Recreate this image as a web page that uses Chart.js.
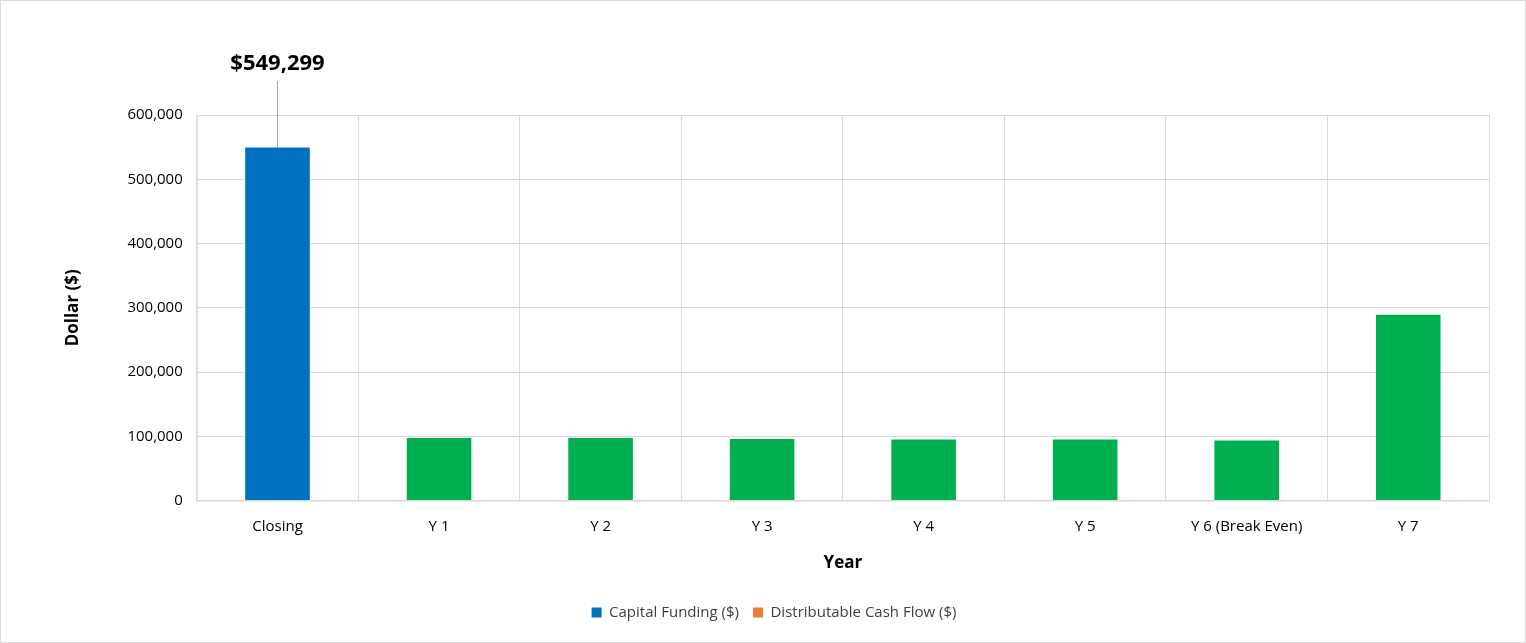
<!DOCTYPE html>
<html>
<head>
<meta charset="utf-8">
<script src="https://cdn.jsdelivr.net/npm/chart.js@4"></script>
<style>
  html, body { margin: 0; padding: 0; background: #fff; }
  #wrap { width: 1524px; height: 641px; border: 1px solid #d9d9d9; }
</style>
</head>
<body>
<div id="wrap"><canvas id="chart" width="1524" height="641"></canvas></div>
<script>
var years = ['Closing', 'Y 1', 'Y 2', 'Y 3', 'Y 4', 'Y 5', 'Y 6 (Break Even)', 'Y 7'];
var capitalFunding = [549299, null, null, null, null, null, null, null];
var cashFlow = [null, 97500, 97500, 96000, 95000, 95000, 93500, 289000];
var topLabel = '$549,299';

var fontFamily = "'Open Sans', 'Liberation Sans', sans-serif";

// leader line + label above the closing bar
var callout = {
  id: 'callout',
  afterDatasetsDraw(chart) {
    var bar = chart.getDatasetMeta(0).data[0];
    var ctx = chart.ctx;
    ctx.save();
    ctx.strokeStyle = '#a6a6a6';
    ctx.lineWidth = 1;
    ctx.beginPath();
    ctx.moveTo(bar.x, bar.y);
    ctx.lineTo(bar.x, 80);
    ctx.stroke();
    ctx.fillStyle = '#000';
    ctx.font = 'bold 22px ' + fontFamily;
    ctx.textAlign = 'center';
    ctx.textBaseline = 'middle';
    ctx.fillText(topLabel, bar.x, 63);
    ctx.restore();
  }
};

// box around the plot area
var frame = {
  id: 'frame',
  beforeDatasetsDraw(chart) {
    var a = chart.chartArea, ctx = chart.ctx;
    ctx.save();
    ctx.strokeStyle = '#d9d9d9';
    ctx.lineWidth = 1;
    ctx.strokeRect(a.left + 0.5, a.top + 0.5, a.right - a.left, a.bottom - a.top);
    ctx.restore();
  }
};

new Chart(document.getElementById('chart'), {
  type: 'bar',
  data: {
    labels: years,
    datasets: [{
      label: 'Capital Funding ($)',
      data: capitalFunding,
      backgroundColor: '#0070c0',
      barPercentage: 0.8,
      categoryPercentage: 0.5
    }, {
      label: 'Distributable Cash Flow ($)',
      data: cashFlow,
      backgroundColor: '#00b050',
      barPercentage: 0.8,
      categoryPercentage: 0.5
    }]
  },
  options: {
    responsive: false,
    animation: false,
    layout: { padding: { top: 114, right: 36, left: 58, bottom: 12 } },
    plugins: {
      tooltip: { enabled: false },
      legend: {
        position: 'bottom',
        labels: {
          font: { family: fontFamily, size: 15 },
          color: '#404040',
          boxWidth: 10,
          boxHeight: 10,
          padding: 14,
          generateLabels: function () {
            return [
              { text: 'Capital Funding ($)', fillStyle: '#0070c0', strokeStyle: '#0070c0', lineWidth: 0, fontColor: '#404040' },
              { text: 'Distributable Cash Flow ($)', fillStyle: '#ed7d31', strokeStyle: '#ed7d31', lineWidth: 0, fontColor: '#404040' }
            ];
          }
        }
      }
    },
    scales: {
      x: {
        stacked: true,
        grid: { color: '#d9d9d9', offset: true, drawTicks: false },
        border: { color: '#d9d9d9' },
        ticks: { font: { family: fontFamily, size: 15 }, color: '#000', padding: 17 },
        title: { display: true, text: 'Year', font: { family: fontFamily, size: 17, weight: 'bold' }, color: '#000', padding: { top: 0, bottom: 18 } }
      },
      y: {
        stacked: true,
        min: 0,
        max: 600000,
        ticks: {
          stepSize: 100000,
          font: { family: fontFamily, size: 15 },
          color: '#000',
          padding: 14,
          callback: function (v) { return v.toLocaleString('en-US'); }
        },
        grid: { color: '#d9d9d9', drawTicks: false },
        border: { display: false },
        title: { display: true, text: 'Dollar ($)', font: { family: fontFamily, size: 17, weight: 'bold' }, color: '#000', padding: { bottom: 30 } }
      }
    }
  },
  plugins: [frame, callout]
});
</script>
</body>
</html>
